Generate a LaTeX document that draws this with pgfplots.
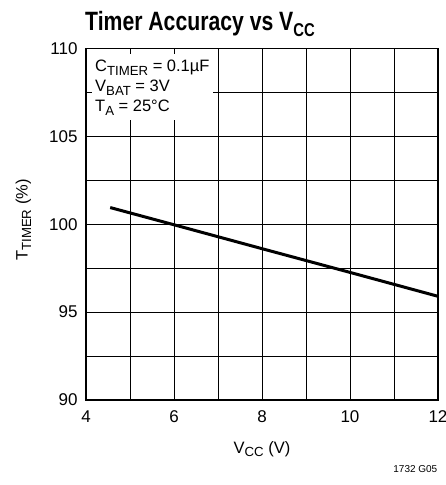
\documentclass[border=0pt]{standalone}
\usepackage{fontspec}
\setmainfont{Liberation Sans}
\newfontfamily\titlefont[FakeStretch=0.8]{Liberation Sans}
\usepackage{graphicx}
\usepackage{pgfplots}
\pgfplotsset{compat=1.18}
\newcommand{\sub}[2][0.8]{\raisebox{-0.4ex}{\scalebox{#1}{#2}}}
\begin{document}
\begin{tikzpicture}[x=1bp,y=1bp]
\useasboundingbox (-86,-85) rectangle (360,400);
\begin{axis}[
  at={(0,0)}, anchor=south west,
  scale only axis, width=352bp, height=351.5bp,
  xmin=4, xmax=12, ymin=90, ymax=110,
  xtick={4,6,...,12}, minor xtick={5,7,9,11},
  ytick={90,95,...,110}, minor ytick={92.5,97.5,102.5,107.5},
  grid=both,
  grid style={black, line width=0.7bp},
  minor grid style={black, line width=0.7bp},
  major tick length=0pt, minor tick length=0pt,
  axis line style={line width=1.4bp},
  ticklabel style={font=\fontsize{17bp}{19bp}\selectfont},
  /pgf/number format/assume math mode=true,
  xticklabel style={yshift=-7bp},
  yticklabel style={xshift=-5bp},
]
\addplot[black, line width=3bp] coordinates {
  (4.55,100.95) (6,99.97) (8,98.61) (10,97.26) (12,95.90)
};
\fill[white] (axis cs:4,110) rectangle (axis cs:6.88,105.93);
\draw[line width=0.7bp] (axis cs:5,110) -- (axis cs:5,109.66);
\draw[line width=0.7bp] (axis cs:6,110) -- (axis cs:6,109.66);
\draw[line width=0.7bp] (axis cs:4,107.5) -- (axis cs:4.14,107.5);
\draw[line width=1.4bp] (rel axis cs:0,0) rectangle (rel axis cs:1,1);
\end{axis}
\begin{scope}[font=\fontsize{16.5bp}{19bp}\selectfont]
\node[anchor=base west, inner sep=0] at (9,328) {C\sub{TIMER} = 0.1µF};
\node[anchor=base west, inner sep=0] at (9,308) {V\sub{BAT} = 3V};
\node[anchor=base west, inner sep=0] at (9,288) {T\sub{A} = 25°C};
\node[anchor=base, inner sep=0] at (176,-53) {V\sub{CC} (V)};
\node[anchor=center, inner sep=0, rotate=90] at (-62.5,180) {T\sub{TIMER} (\%)};
\end{scope}
\node[anchor=base west, inner sep=0, font=\titlefont\bfseries\fontsize{26.5bp}{30bp}\selectfont]
  at (-1,369) {Timer Accuracy vs V\sub[0.7]{CC}};
\node[anchor=base east, inner sep=0, font=\fontsize{10bp}{12bp}\selectfont]
  at (351.5,-72) {1732 G05};
\end{tikzpicture}
\end{document}
